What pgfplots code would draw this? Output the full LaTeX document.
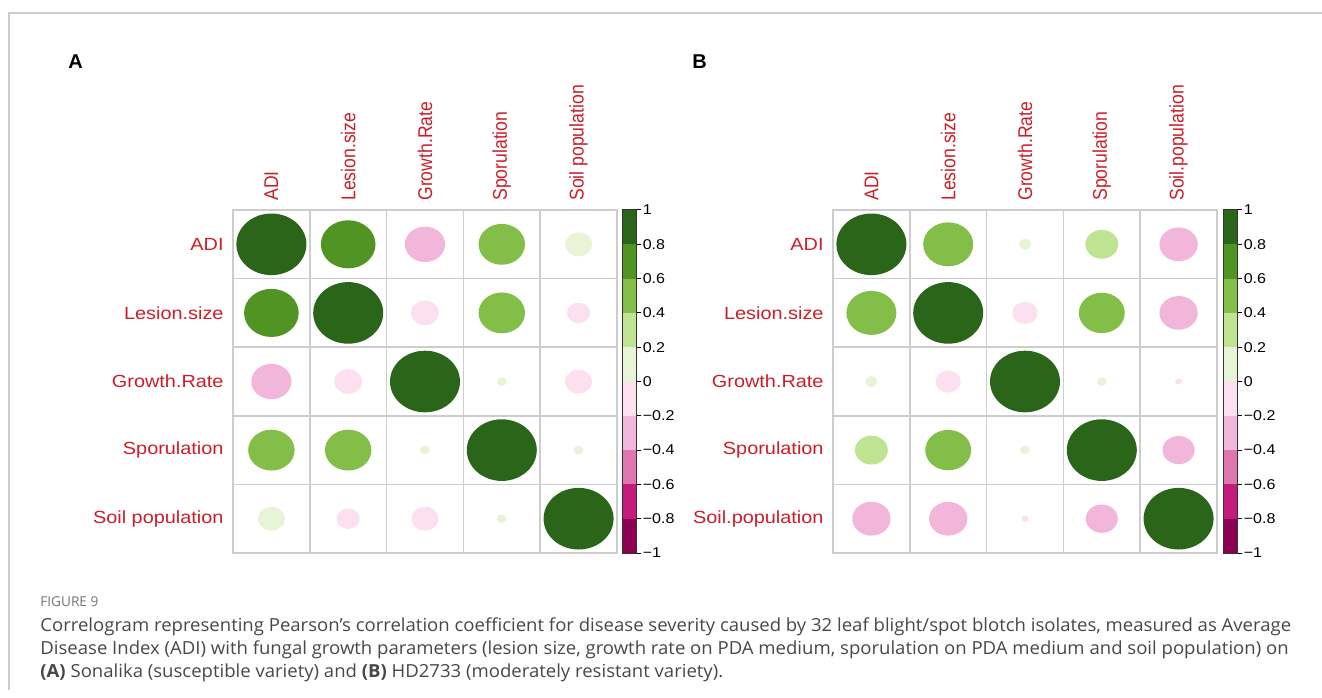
\documentclass[border=0pt]{standalone}
\usepackage{fontspec}
\setmainfont{Liberation Sans}
\newfontfamily\capfont{Open Sans}
\usepackage{pgfplots}
\pgfplotsset{compat=1.18}
\usepackage{pgfplotstable}

\definecolor{labred}{RGB}{204,30,40}
\definecolor{pb0}{RGB}{142,1,82}
\definecolor{pb1}{RGB}{197,27,125}
\definecolor{pb2}{RGB}{222,119,174}
\definecolor{pb3}{RGB}{241,182,218}
\definecolor{pb4}{RGB}{253,224,239}
\definecolor{pb5}{RGB}{232,244,214}
\definecolor{pb6}{RGB}{190,228,146}
\definecolor{pb7}{RGB}{131,191,72}
\definecolor{pb8}{RGB}{80,149,35}
\definecolor{pb9}{RGB}{42,101,26}
\definecolor{gridgray}{RGB}{205,205,205}

\pgfdeclareplotmark{ell}{%
  \pgfpathellipse{\pgfpointorigin}{\pgfqpoint{\pgfplotmarksize}{0pt}}{\pgfqpoint{0pt}{0.88\pgfplotmarksize}}%
  \pgfusepathqfill}

\pgfplotsset{
  colormap={piyg}{rgb255=(142,1,82) rgb255=(197,27,125) rgb255=(222,119,174) rgb255=(241,182,218) rgb255=(253,224,239) rgb255=(232,244,214) rgb255=(190,228,146) rgb255=(131,191,72) rgb255=(80,149,35) rgb255=(42,101,26)},
  corrgrid/.style={
    anchor=south west, scale only axis,
    width=192pt, height=171.5pt,
    xmin=0.5, xmax=5.5, ymin=0.5, ymax=5.5, y dir=reverse,
    xtick={1,2,3,4,5}, ytick={1,2,3,4,5},
    xticklabel pos=right,
    major tick length=0pt, minor tick length=0pt,
    minor xtick={1.5,2.5,3.5,4.5}, minor ytick={1.5,2.5,3.5,4.5},
    xminorgrids, yminorgrids,
    minor grid style={draw=gridgray, line width=0.75pt},
    axis line style={draw=gridgray, line width=0.75pt},
    tick label style={font=\fontsize{8.8}{10}\selectfont, text=labred, inner sep=0pt},
    xticklabel style={rotate=90, yscale=1.13, anchor=west},
    yticklabel style={xscale=1.13, anchor=east},
    xticklabel shift=4.5pt, yticklabel shift=4.5pt,
    colormap name=piyg, point meta min=0, point meta max=9,
    clip=false,
  },
  cbar/.style={
    anchor=south west, scale only axis,
    width=7pt, height=171.5pt,
    xmin=0, xmax=1, ymin=-1, ymax=1,
    xtick=\empty,
    ytick={-1,-0.8,-0.6,-0.4,-0.2,0,0.2,0.4,0.6,0.8,1},
    yticklabels={−1,−0.8,−0.6,−0.4,−0.2,0,0.2,0.4,0.6,0.8,1},
    ytick pos=right, yticklabel pos=right,
    tick align=outside, major tick length=2.5pt,
    tick style={black, line width=0.5pt},
    axis line style={black!80, line width=0.5pt},
    tick label style={font=\fontsize{7.1}{8}\selectfont, xscale=1.13, inner sep=0.6pt},
    axis on top,
  },
}

\pgfplotstableread{
x y r
1 1 1
2 1 0.61
3 1 -0.33
4 1 0.44
5 1 0.15
1 2 0.61
2 2 1
3 2 -0.16
4 2 0.44
5 2 -0.11
1 3 -0.33
2 3 -0.16
3 3 1
4 3 0.02
5 3 -0.15
1 4 0.44
2 4 0.44
3 4 0.02
4 4 1
5 4 0.02
1 5 0.15
2 5 -0.11
3 5 -0.15
4 5 0.02
5 5 1
}\tabA

\pgfplotstableread{
x y r
1 1 1
2 1 0.51
3 1 0.03
4 1 0.22
5 1 -0.30
1 2 0.51
2 2 1
3 2 -0.13
4 2 0.43
5 2 -0.30
1 3 0.03
2 3 -0.13
3 3 1
4 3 0.02
5 3 -0.01
1 4 0.22
2 4 0.43
3 4 0.02
4 4 1
5 4 -0.21
1 5 -0.30
2 5 -0.30
3 5 -0.01
4 5 -0.21
5 5 1
}\tabB

\newcommand{\corrplot}[1]{%
  \addplot[scatter, only marks, mark=ell,
    point meta={min(9,floor(5*(\thisrow{r}+1)))},
    scatter/use mapped color={draw=mapped color, fill=mapped color},
    visualization depends on={17.5*sqrt(abs(\thisrow{r})) \as \msize},
    scatter/@pre marker code/.append style={/tikz/mark size=\msize pt},
  ] table[x=x, y=y] {#1};
}

\newcommand{\cbands}{%
  \addplot[fill=pb0, draw=none] coordinates {(0,-1) (1,-1) (1,-0.8) (0,-0.8)} -- cycle;
  \addplot[fill=pb1, draw=none] coordinates {(0,-0.8) (1,-0.8) (1,-0.6) (0,-0.6)} -- cycle;
  \addplot[fill=pb2, draw=none] coordinates {(0,-0.6) (1,-0.6) (1,-0.4) (0,-0.4)} -- cycle;
  \addplot[fill=pb3, draw=none] coordinates {(0,-0.4) (1,-0.4) (1,-0.2) (0,-0.2)} -- cycle;
  \addplot[fill=pb4, draw=none] coordinates {(0,-0.2) (1,-0.2) (1,0) (0,0)} -- cycle;
  \addplot[fill=pb5, draw=none] coordinates {(0,0) (1,0) (1,0.2) (0,0.2)} -- cycle;
  \addplot[fill=pb6, draw=none] coordinates {(0,0.2) (1,0.2) (1,0.4) (0,0.4)} -- cycle;
  \addplot[fill=pb7, draw=none] coordinates {(0,0.4) (1,0.4) (1,0.6) (0,0.6)} -- cycle;
  \addplot[fill=pb8, draw=none] coordinates {(0,0.6) (1,0.6) (1,0.8) (0,0.8)} -- cycle;
  \addplot[fill=pb9, draw=none] coordinates {(0,0.8) (1,0.8) (1,1) (0,1)} -- cycle;
}

\begin{document}
\begin{tikzpicture}
\path[use as bounding box] (0,0) rectangle (661pt,348.5pt);
\draw[gridgray, line width=0.75pt] (4.6pt,3.5pt) -- (4.6pt,342pt) -- (661pt,342pt);

\node[anchor=base west, inner sep=0pt, font=\bfseries\fontsize{10}{12}\selectfont] at (34pt,314pt) {A};
\node[anchor=base west, inner sep=0pt, font=\bfseries\fontsize{10}{12}\selectfont] at (346pt,314pt) {B};

% Panel A
\begin{axis}[corrgrid, at={(116.5pt,72pt)},
  xticklabels={ADI,Lesion.size,Growth.Rate,Sporulation,Soil population},
  yticklabels={ADI,Lesion.size,Growth.Rate,Sporulation,Soil population}]
\corrplot{\tabA}
\end{axis}
\begin{axis}[cbar, at={(311pt,72pt)}]
\cbands
\end{axis}

% Panel B
\begin{axis}[corrgrid, at={(416.5pt,72pt)},
  xticklabels={ADI,Lesion.size,Growth.Rate,Sporulation,Soil.population},
  yticklabels={ADI,Lesion.size,Growth.Rate,Sporulation,Soil.population}]
\corrplot{\tabB}
\end{axis}
\begin{axis}[cbar, at={(611.5pt,72pt)}]
\cbands
\end{axis}

% Caption
\node[anchor=base west, inner sep=0pt, text=black!55, font=\capfont\fontsize{6.8}{8}\selectfont] at (20pt,45.5pt) {FIGURE 9};
\begin{scope}[every node/.style={anchor=base west, inner sep=0pt, text=black!72, xscale=1.03, font=\capfont\fontsize{9}{11}\selectfont}]
\node at (20pt,33pt) {Correlogram representing Pearson’s correlation coefficient for disease severity caused by 32 leaf blight/spot blotch isolates, measured as Average};
\node at (20pt,21.5pt) {Disease Index (ADI) with fungal growth parameters (lesion size, growth rate on PDA medium, sporulation on PDA medium and soil population) on};
\node at (20pt,10pt) {\textbf{(A)} Sonalika (susceptible variety) and \textbf{(B)} HD2733 (moderately resistant variety).};
\end{scope}
\end{tikzpicture}
\end{document}
